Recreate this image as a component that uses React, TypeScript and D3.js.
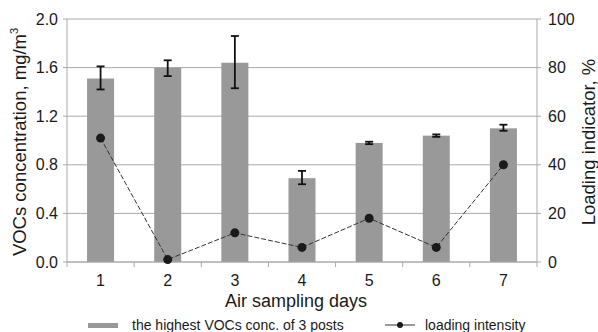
import React from "react";
import { scaleBand, scaleLinear, line } from "d3";

// sampling days
const days = ["1", "2", "3", "4", "5", "6", "7"];
// highest VOCs conc. of 3 posts, mg/m3
const vocs = [1.51, 1.6, 1.64, 0.69, 0.98, 1.04, 1.1];
const errLow = [1.42, 1.53, 1.43, 0.64, 0.97, 1.03, 1.08];
const errHigh = [1.61, 1.66, 1.86, 0.75, 0.99, 1.05, 1.13];
// loading intensity, %
const loading = [51, 1, 12, 6, 18, 6, 40];

const leftTicks = [0, 0.4, 0.8, 1.2, 1.6, 2.0];
const rightTicks = [0, 20, 40, 60, 80, 100];

const W = 598;
const H = 332;
const m = { left: 67, right: 61, top: 19, bottom: 70 };
const font = "Arial, 'Liberation Sans', sans-serif";

export default function App() {
  const xOuter = scaleBand().domain(days).range([m.left, W - m.right]);
  const yL = scaleLinear().domain([0, 2]).range([H - m.bottom, m.top]);
  const yR = scaleLinear().domain([0, 100]).range([H - m.bottom, m.top]);
  const cx = (d: string) => (xOuter(d) as number) + xOuter.bandwidth() / 2;

  const path = line<number>()
    .x((_, i) => cx(days[i]))
    .y((v) => yR(v))(loading);

  const bottom = H - m.bottom;
  const right = W - m.right;
  const ink = "#1a1a1a";

  return (
    <svg width={W} height={H} style={{ position: "absolute", left: 0, top: 0, background: "#fff" }} fontFamily={font}>
      {/* grid */}
      {leftTicks.map((t) => (
        <line key={t} x1={m.left} x2={right} y1={yL(t)} y2={yL(t)} stroke="#aaaaaa" strokeWidth={1} />
      ))}
      {/* bars */}
      {vocs.map((v, i) => (
        <rect key={i} x={cx(days[i]) - 13.5} width={27} y={yL(v)} height={bottom - yL(v)} fill="#999999" />
      ))}
      {/* error bars */}
      {vocs.map((_, i) => {
        const c = cx(days[i]);
        return (
          <g key={i} stroke="#111" strokeWidth={1.8}>
            <line x1={c} x2={c} y1={yL(errLow[i])} y2={yL(errHigh[i])} />
            <line x1={c - 4} x2={c + 4} y1={yL(errLow[i])} y2={yL(errLow[i])} />
            <line x1={c - 4} x2={c + 4} y1={yL(errHigh[i])} y2={yL(errHigh[i])} />
          </g>
        );
      })}
      {/* axes */}
      <line x1={m.left} x2={m.left} y1={m.top} y2={bottom + 5} stroke="#aaaaaa" />
      <line x1={right} x2={right} y1={m.top} y2={bottom + 5} stroke="#aaaaaa" />
      <line x1={m.left} x2={right} y1={bottom} y2={bottom} stroke="#aaaaaa" />
      {leftTicks.map((t) => (
        <g key={t}>
          <line x1={m.left - 4} x2={m.left} y1={yL(t)} y2={yL(t)} stroke="#aaaaaa" />
          <text x={m.left - 9} y={yL(t)} dy="0.35em" textAnchor="end" fontSize={16} fill={ink}>
            {t.toFixed(1)}
          </text>
        </g>
      ))}
      {rightTicks.map((t) => (
        <g key={t}>
          <line x1={right} x2={right + 4} y1={yR(t)} y2={yR(t)} stroke="#aaaaaa" />
          <text x={right + 11} y={yR(t)} dy="0.35em" textAnchor="start" fontSize={16} fill={ink}>
            {t}
          </text>
        </g>
      ))}
      {days.map((d, i) => (
        <g key={d}>
          {i > 0 && (
            <line x1={xOuter(d)} x2={xOuter(d)} y1={bottom} y2={bottom + 5} stroke="#aaaaaa" />
          )}
          <text x={cx(d)} y={bottom + 24} textAnchor="middle" fontSize={16} fill={ink}>
            {d}
          </text>
        </g>
      ))}
      {/* line series */}
      <path d={path ?? ""} fill="none" stroke="#333" strokeWidth={1} strokeDasharray="5,2" />
      {loading.map((v, i) => (
        <circle key={i} cx={cx(days[i])} cy={yR(v)} r={4.5} fill="#1a1a1a" />
      ))}
      {/* titles */}
      <text x={296} y={307} textAnchor="middle" fontSize={18} fill={ink}>
        Air sampling days
      </text>
      <text transform={`translate(26,142) rotate(-90)`} textAnchor="middle" fontSize={18.5} fill={ink}>
        VOCs concentration, mg/m<tspan fontSize={11} dy={-8}>3</tspan>
      </text>
      <text transform={`translate(595,142) rotate(-90)`} textAnchor="middle" fontSize={18.5} fill={ink}>
        Loading indicator, %
      </text>
      {/* legend */}
      <rect x={88} y={323} width={30} height={5} fill="#999999" />
      <text x={132} y={330} fontSize={14} fill={ink}>the highest VOCs conc. of 3 posts</text>
      <line x1={385} x2={415} y1={325} y2={325} stroke="#333" />
      <circle cx={400} cy={325} r={3} fill="#1a1a1a" />
      <text x={425} y={330} fontSize={14} fill={ink}>loading intensity</text>
    </svg>
  );
}
